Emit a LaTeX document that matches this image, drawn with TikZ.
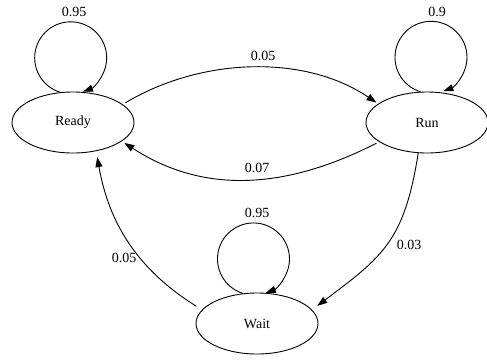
\documentclass[tikz,border=0pt]{standalone}
\usepackage{fontspec}
\setmainfont{Liberation Serif}
\usepackage{tikz}
\usetikzlibrary{arrows.meta,shapes.geometric}

\begin{document}
\begin{tikzpicture}[->,>={Triangle[length=10pt,width=7pt]},x=1pt,y=1pt,
  line width=0.9pt,
  main node/.style={ellipse,draw,minimum width=122pt,minimum height=61pt,
    inner sep=0pt,font=\fontsize{14}{16}\selectfont},
  prob/.style={inner sep=0pt,font=\fontsize{14}{16}\selectfont}]

  \useasboundingbox (0,0) rectangle (487,-360);

  \node[main node] (ready) at (73,-122.5) {Ready};
  \node[main node] (run) at (427,-122.5) {Run};
  \node[main node] (wait) at (257,-323.5) {Wait};

  % self loops
  \draw (ready.113) arc[start angle=253,end angle=-70,radius=36pt];
  \draw (run.102) arc[start angle=253,end angle=-70,radius=36pt];
  \draw (wait.115) arc[start angle=253,end angle=-70,radius=36pt];

  \path
  (ready.20) edge[out=31,in=146,looseness=0.9,shorten <=3pt,shorten >=2pt] (run.159)
  (run.202) edge[out=207,in=-33,shorten <=3pt,shorten >=3pt] (ready.-21)
  (run.-106) edge[out=-99,in=37,looseness=1.2,shorten >=6.5pt] (wait.14)
  (wait.166) edge[out=148,in=-80,shorten <=6.5pt,shorten >=6pt] (ready.-51);

  \node[prob] (pready) at (74,-11.5) {0.95};
  \node[prob] (prun) at (437,-11.5) {0.9};
  \node[prob] (pwait) at (257,-213) {0.95};
  \node[prob] (preadyrun) at (263,-56) {0.05};
  \node[prob] (prunready) at (257,-168) {0.07};
  \node[prob] (prunwait) at (409,-245) {0.03};
  \node[prob] (pwaitready) at (124,-258) {0.05};
\end{tikzpicture}
\end{document}
